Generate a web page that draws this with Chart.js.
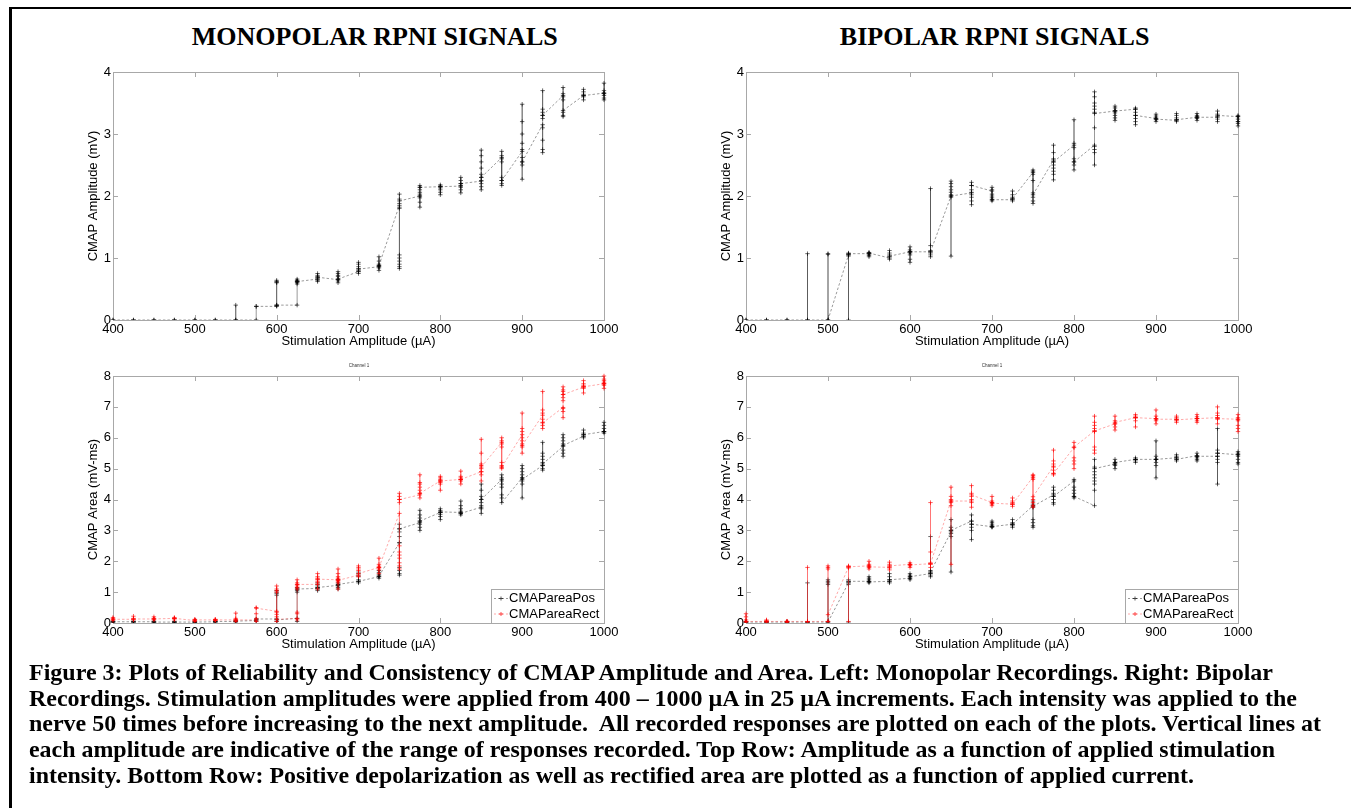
<!DOCTYPE html>
<html>
<head>
<meta charset="utf-8">
<script src="https://cdn.jsdelivr.net/npm/chart.js@4.4.0/dist/chart.umd.min.js"></script>
<style>
  html, body { margin: 0; padding: 0; background: #fff; }
  body { width: 1351px; height: 808px; position: relative; overflow: hidden; }
  .frame { position: absolute; left: 9px; top: 7px; width: 1400px; height: 900px; border-left: 3px solid #000; border-top: 2px solid #000; }
  canvas { position: absolute; }
  .title, .cap { font-family: "Liberation Serif", Tinos, "Times New Roman", Times, "Nimbus Roman", "FreeSerif", "DejaVu Serif", serif; font-weight: bold; color: #000; white-space: nowrap; position: absolute; }
  .title { top: 22px; font-size: 26px; line-height: 30px; transform-origin: center top; }
  .cap { left: 29px; font-size: 24px; line-height: 26px; transform-origin: left top; }
  .chan { position: absolute; top: 363px; font: 4.5px "Liberation Sans", Arial, sans-serif; color: #333; white-space: nowrap; transform: translateX(-50%); }
</style>
</head>
<body>
<div class="frame"></div>
<div class="title" id="t1" data-cx="375">MONOPOLAR RPNI SIGNALS</div>
<div class="title" id="t2" data-cx="995">BIPOLAR RPNI SIGNALS</div>

<canvas id="monoAmpChart"></canvas>
<canvas id="biAmpChart"></canvas>
<canvas id="monoAreaChart"></canvas>
<canvas id="biAreaChart"></canvas>

<div class="chan" style="left:359px">Channel 1</div>
<div class="chan" style="left:992px">Channel 1</div>

<div class="cap" data-right="1273" style="top:659px">Figure 3: Plots of Reliability and Consistency of CMAP Amplitude and Area. Left: Monopolar Recordings. Right: Bipolar</div>
<div class="cap" data-right="1297" style="top:685px">Recordings. Stimulation amplitudes were applied from 400 – 1000 µA in 25 µA increments. Each intensity was applied to the</div>
<div class="cap" data-right="1321" style="top:710px">nerve 50 times before increasing to the next amplitude.&nbsp; All recorded responses are plotted on each of the plots. Vertical lines at</div>
<div class="cap" data-right="1275" style="top:736px">each amplitude are indicative of the range of responses recorded. Top Row: Amplitude as a function of applied stimulation</div>
<div class="cap" data-right="1194" style="top:762px">intensity. Bottom Row: Positive depolarization as well as rectified area are plotted as a function of applied current.</div>

<script>
"use strict";

// stimulation amplitudes (µA), one group of recorded responses per amplitude
const amps = [400, 425, 450, 475, 500, 525, 550, 575, 600, 625, 650, 675, 700,
  725, 750, 775, 800, 825, 850, 875, 900, 925, 950, 975, 1000];

const xTicks = [400, 500, 600, 700, 800, 900, 1000];
const ampTicks = [0, 1, 2, 3, 4];
const areaTicks = [0, 1, 2, 3, 4, 5, 6, 7, 8];

// responses: first value = first trial, last value = last trial
const monoAmp = [
  [0, 0], [0, 0], [0, 0], [0, 0], [0, 0], [0, 0],
  [0, 0.24, 0],
  [0, 0.22, 0.22],
  [0.22, 0.24, 0.23, 0.6, 0.62, 0.64, 0.61, 0.24],
  [0.24, 0.58, 0.6, 0.62, 0.64, 0.66, 0.63, 0.61, 0.62],
  [0.66, 0.62, 0.64, 0.66, 0.68, 0.7, 0.72, 0.75, 0.69],
  [0.65, 0.6, 0.63, 0.66, 0.7, 0.72, 0.75, 0.78, 0.66],
  [0.78, 0.75, 0.78, 0.8, 0.83, 0.86, 0.9, 0.93, 0.82],
  [0.86, 0.8, 0.84, 0.86, 0.88, 0.9, 0.95, 1.02, 0.88],
  [1.85, 1.82, 0.83, 0.86, 0.9, 0.95, 1.0, 1.05, 1.8, 1.88, 1.95, 2.03, 1.92],
  [2.0, 1.82, 1.9, 1.97, 2.0, 2.03, 2.06, 2.1, 2.14, 2.17, 2.14],
  [2.15, 2.02, 2.06, 2.1, 2.13, 2.16, 2.18, 2.15],
  [2.16, 2.05, 2.1, 2.14, 2.17, 2.2, 2.25, 2.3, 2.2],
  [2.24, 2.1, 2.15, 2.2, 2.25, 2.3, 2.35, 2.45, 2.55, 2.65, 2.74, 2.3],
  [2.62, 2.55, 2.6, 2.65, 2.72, 2.3, 2.25, 2.2, 2.17, 2.25],
  [2.72, 2.75, 2.85, 3.0, 3.2, 3.48, 2.62, 2.55, 2.5, 2.27, 2.55],
  [3.15, 3.25, 3.3, 3.35, 3.4, 3.7, 3.1, 2.9, 2.75, 2.7, 3.3],
  [3.62, 3.55, 3.6, 3.65, 3.75, 3.35, 3.3, 3.28, 3.38],
  [3.62, 3.55, 3.6, 3.64, 3.68, 3.72, 3.62],
  [3.66, 3.55, 3.58, 3.62, 3.66, 3.7, 3.82, 3.65]
];

const biAmp = [
  [0, 0], [0, 0], [0, 0],
  [0, 1.07, 0],
  [0, 1.07, 1.06, 0],
  [1.05, 0, 1.03, 1.05, 1.06, 1.08, 1.07],
  [1.07, 1.02, 1.04, 1.06, 1.08, 1.09, 1.08],
  [1.0, 0.98, 1.02, 1.05, 1.08, 1.12, 1.03],
  [1.1, 0.93, 0.98, 1.05, 1.08, 1.1, 1.13, 1.18, 1.1],
  [1.1, 1.02, 1.05, 1.08, 1.12, 1.2, 2.12, 1.1],
  [2.0, 1.03, 1.98, 2.02, 2.06, 2.1, 2.15, 2.2, 2.24, 2.0],
  [2.05, 1.86, 1.92, 1.98, 2.02, 2.06, 2.1, 2.17, 2.22, 2.17],
  [2.08, 1.92, 1.94, 1.97, 2.0, 2.03, 2.1, 2.14, 1.94],
  [1.94, 1.92, 1.95, 1.98, 2.02, 2.08, 1.96],
  [2.38, 2.35, 2.4, 2.42, 2.25, 2.05, 1.98, 1.92, 1.88, 2.02],
  [2.58, 2.26, 2.35, 2.4, 2.45, 2.5, 2.55, 2.6, 2.7, 2.82, 2.55],
  [2.82, 2.78, 2.85, 3.23, 2.6, 2.55, 2.5, 2.42, 2.55],
  [2.82, 2.7, 2.75, 2.8, 2.5, 3.1, 3.35, 3.4, 3.45, 3.5, 3.6, 3.68, 3.33],
  [3.37, 3.22, 3.26, 3.3, 3.34, 3.38, 3.42, 3.45, 3.37],
  [3.4, 3.15, 3.2, 3.25, 3.3, 3.35, 3.4, 3.42, 3.3],
  [3.25, 3.2, 3.23, 3.26, 3.29, 3.32, 3.24],
  [3.22, 3.2, 3.23, 3.26, 3.3, 3.33, 3.23],
  [3.27, 3.22, 3.25, 3.28, 3.3, 3.33, 3.27],
  [3.27, 3.2, 3.24, 3.28, 3.32, 3.37, 3.3],
  [3.28, 3.13, 3.17, 3.2, 3.24, 3.28, 3.3, 3.2]
];

const monoAreaPos = [
  [0.04, 0.02, 0.06, 0.04],
  [0.04, 0.02, 0.06, 0.04],
  [0.04, 0.02, 0.06, 0.03],
  [0.03, 0.02, 0.05, 0.03],
  [0.03, 0.01, 0.05, 0.03],
  [0.04, 0.02, 0.06, 0.05],
  [0.05, 0.03, 0.08, 0.06],
  [0.08, 0.05, 0.12, 0.13],
  [0.13, 0.05, 0.9, 0.95, 1.0, 1.05, 0.1],
  [0.15, 0.05, 1.0, 1.05, 1.1, 1.15, 1.1],
  [1.12, 1.05, 1.1, 1.15, 1.2, 1.25, 1.3, 1.15],
  [1.22, 1.1, 1.15, 1.2, 1.25, 1.3, 1.4, 1.25],
  [1.35, 1.3, 1.4, 1.5, 1.55, 1.6, 1.65, 1.35],
  [1.5, 1.45, 1.52, 1.58, 1.64, 1.7, 1.52],
  [2.6, 1.55, 1.6, 1.7, 1.8, 2.6, 2.8, 2.95, 3.05, 3.2, 3.05],
  [3.25, 3.0, 3.1, 3.2, 3.3, 3.4, 3.5, 3.65, 3.3],
  [3.58, 3.35, 3.45, 3.52, 3.58, 3.64, 3.7, 3.6],
  [3.58, 3.5, 3.55, 3.62, 3.7, 3.8, 3.95, 3.55],
  [3.75, 3.55, 3.7, 3.8, 3.9, 4.0, 4.1, 4.3, 4.5, 4.0],
  [4.65, 4.4, 4.5, 4.6, 4.7, 4.8, 4.15, 4.05, 3.9],
  [4.7, 4.05, 4.5, 4.6, 4.7, 4.8, 4.9, 5.0, 5.1, 4.65],
  [5.1, 4.95, 5.0, 5.1, 5.2, 5.3, 5.4, 5.5, 5.85, 5.15],
  [5.72, 5.8, 5.9, 6.0, 6.1, 5.6, 5.5, 5.4, 5.75],
  [6.05, 6.0, 6.05, 6.1, 6.15, 6.25, 6.1],
  [6.2, 6.15, 6.2, 6.3, 6.4, 6.5, 6.2]
];

const monoAreaRect = [
  [0.12, 0.08, 0.15, 0.18, 0.12],
  [0.12, 0.1, 0.15, 0.22, 0.13],
  [0.13, 0.1, 0.15, 0.2, 0.13],
  [0.15, 0.1, 0.15, 0.18, 0.15],
  [0.08, 0.05, 0.1, 0.12, 0.1],
  [0.1, 0.08, 0.1, 0.12, 0.1],
  [0.1, 0.05, 0.1, 0.15, 0.32, 0.1],
  [0.1, 0.05, 0.15, 0.3, 0.5, 0.48],
  [0.38, 0.2, 0.28, 0.35, 1.0, 1.05, 1.1, 1.2, 0.05, 0.12],
  [0.15, 0.1, 0.3, 0.35, 1.1, 1.15, 1.2, 1.25, 1.3, 1.4, 1.25],
  [1.25, 1.1, 1.3, 1.35, 1.4, 1.45, 1.5, 1.6, 1.42],
  [1.4, 1.1, 1.3, 1.35, 1.4, 1.45, 1.5, 1.6, 1.75, 1.38],
  [1.55, 1.5, 1.7, 1.75, 1.8, 1.85, 1.6],
  [1.8, 1.6, 1.72, 1.78, 1.84, 1.9, 2.1, 1.8],
  [3.55, 3.9, 4.0, 4.1, 4.2, 2.5, 2.3, 2.2, 2.1, 1.95, 1.85, 1.75, 4.0],
  [4.15, 4.05, 4.2, 4.3, 4.4, 4.5, 4.55, 4.8, 4.2],
  [4.6, 4.3, 4.5, 4.55, 4.6, 4.65, 4.7, 4.75, 4.6],
  [4.65, 4.5, 4.6, 4.65, 4.7, 4.75, 4.92, 4.65],
  [4.9, 4.6, 4.8, 4.9, 5.0, 5.1, 5.15, 5.5, 5.95, 5.05],
  [5.85, 5.7, 5.8, 5.9, 6.0, 5.2, 5.1, 5.05, 5.0, 5.05],
  [6.1, 6.2, 6.3, 6.8, 6.0, 5.9, 5.8, 5.7, 5.5, 5.75],
  [6.73, 6.8, 6.9, 7.5, 6.6, 6.5, 6.4, 6.3, 6.48],
  [6.98, 7.2, 7.3, 7.4, 7.5, 7.55, 7.65, 6.95, 6.85, 6.65, 7.4],
  [7.64, 7.45, 7.6, 7.65, 7.7, 7.75, 7.85, 7.65],
  [7.75, 7.6, 7.7, 7.75, 7.8, 7.85, 7.9, 8.0, 7.75]
];

const biAreaPos = [
  [0.03, 0.0, 0.05, 0.03],
  [0.03, 0.0, 0.05, 0.03],
  [0.03, 0.0, 0.04, 0.03],
  [0.03, 0.0, 1.3, 0.03],
  [0.03, 1.25, 1.3, 1.35, 1.4, 0.03],
  [1.3, 0.03, 1.25, 1.3, 1.35, 1.4, 1.35],
  [1.35, 1.3, 1.35, 1.4, 1.45, 1.5, 1.33],
  [1.35, 1.3, 1.35, 1.4, 1.5, 1.6, 1.4],
  [1.45, 1.4, 1.45, 1.5, 1.55, 1.6, 1.5],
  [1.6, 1.5, 1.55, 1.6, 1.65, 1.7, 2.8, 1.65],
  [2.95, 1.65, 2.8, 2.9, 3.0, 3.1, 3.35, 3.0],
  [3.3, 2.7, 3.0, 3.1, 3.2, 3.3, 3.5, 3.2],
  [3.12, 3.1, 3.15, 3.2, 3.25, 3.3, 3.12],
  [3.2, 3.1, 3.15, 3.2, 3.25, 3.35, 3.2],
  [3.8, 3.75, 3.85, 3.95, 3.35, 3.25, 3.15, 3.1, 3.78],
  [4.15, 3.85, 3.9, 4.0, 4.1, 4.2, 4.3, 4.4, 4.1],
  [4.6, 4.65, 4.4, 4.3, 4.2, 4.1, 4.05, 4.1],
  [3.8, 4.3, 4.5, 4.6, 4.7, 4.8, 4.9, 5.05, 5.3, 5.0],
  [5.15, 5.0, 5.1, 5.15, 5.2, 5.3, 5.2],
  [5.3, 5.2, 5.25, 5.3, 5.35, 5.3],
  [5.3, 4.7, 5.1, 5.2, 5.3, 5.4, 5.9, 5.3],
  [5.35, 5.25, 5.3, 5.35, 5.4, 5.45, 5.3],
  [5.42, 5.25, 5.3, 5.35, 5.4, 5.5, 5.4],
  [5.4, 4.5, 5.2, 5.3, 5.4, 5.5, 5.6, 6.3, 5.5],
  [5.45, 5.15, 5.2, 5.3, 5.4, 5.5, 5.55, 5.45]
];

const biAreaRect = [
  [0.05, 0.0, 0.1, 0.2, 0.3, 0.05],
  [0.05, 0.02, 0.08, 0.1, 0.05],
  [0.05, 0.02, 0.06, 0.05],
  [0.05, 0.0, 1.8, 0.05],
  [0.05, 1.75, 1.8, 1.85, 0.05, 0.27],
  [1.81, 0.05, 1.78, 1.82, 1.85, 1.82],
  [1.85, 1.75, 1.8, 1.85, 1.9, 2.0, 1.82],
  [1.8, 1.72, 1.78, 1.84, 1.9, 1.97, 1.85],
  [1.9, 1.8, 1.85, 1.9, 1.95, 1.88],
  [1.92, 1.8, 1.9, 1.95, 2.3, 3.9, 1.92],
  [3.95, 1.9, 3.8, 3.9, 4.0, 4.1, 4.4, 3.95],
  [3.95, 3.75, 3.9, 4.0, 4.1, 4.2, 4.45, 4.15],
  [3.9, 3.8, 3.85, 3.9, 3.95, 4.1, 3.88],
  [3.85, 3.78, 3.85, 3.9, 3.95, 4.05, 3.85],
  [4.73, 4.65, 4.7, 4.78, 4.8, 4.0, 3.9, 3.8, 3.75, 4.09],
  [5.08, 4.8, 4.85, 4.95, 5.05, 5.15, 5.25, 5.6, 4.84],
  [5.68, 5.85, 5.35, 5.25, 5.15, 5.0, 5.7],
  [6.22, 5.5, 5.6, 5.7, 6.2, 6.3, 6.4, 6.5, 6.7, 6.22],
  [6.45, 6.25, 6.35, 6.45, 6.55, 6.7, 6.5],
  [6.65, 6.35, 6.55, 6.65, 6.7, 6.75, 6.65],
  [6.62, 6.45, 6.55, 6.62, 6.7, 6.9, 6.6],
  [6.6, 6.5, 6.55, 6.6, 6.65, 6.7, 6.58],
  [6.62, 6.5, 6.55, 6.62, 6.68, 6.75, 6.62],
  [6.65, 6.45, 6.6, 6.65, 6.72, 6.8, 7.0, 6.62],
  [6.6, 6.2, 6.3, 6.4, 6.55, 6.65, 6.75, 6.6]
];

const FONT = '"Liberation Sans", Arial, sans-serif';
const BOX_GREY = "#a8a8a8";

// all trials in recording order: same x -> vertical range line, next x -> dashed step
function toPoints(samples) {
  const pts = [];
  samples.forEach((vals, i) => {
    vals.forEach(v => pts.push({ x: amps[i], y: v }));
  });
  return pts;
}

function series(label, samples, markColor, lineColor, order) {
  return {
    label: label,
    data: toPoints(samples),
    order: order,
    borderColor: lineColor,
    borderWidth: 0.8,
    pointStyle: "cross",
    pointRadius: 2.2,
    pointHoverRadius: 2.2,
    pointBorderWidth: 0.75,
    pointBorderColor: markColor,
    pointBackgroundColor: markColor,
    tension: 0,
    fill: false,
    clip: { left: 6, right: 6, top: 6, bottom: 0 },
    segment: {
      borderDash: c => (c.p0.parsed.x === c.p1.parsed.x ? [] : [2.5, 2])
    }
  };
}

// matlab-like grey box with inward ticks
const boxPlugin = {
  id: "matlabBox",
  beforeDatasetsDraw(chart) {
    const { ctx, chartArea: a, scales } = chart;
    ctx.save();
    ctx.strokeStyle = BOX_GREY;
    ctx.lineWidth = 1;
    ctx.strokeRect(a.left + 0.5, a.top + 0.5, a.right - a.left, a.bottom - a.top);
    ctx.beginPath();
    scales.x.ticks.forEach(t => {
      const px = Math.round(scales.x.getPixelForValue(t.value)) + 0.5;
      ctx.moveTo(px, a.bottom);
      ctx.lineTo(px, a.bottom - 5);
      ctx.moveTo(px, a.top);
      ctx.lineTo(px, a.top + 5);
    });
    scales.y.ticks.forEach(t => {
      const py = Math.round(scales.y.getPixelForValue(t.value)) + 0.5;
      ctx.moveTo(a.left, py);
      ctx.lineTo(a.left + 5, py);
      ctx.moveTo(a.right, py);
      ctx.lineTo(a.right - 5, py);
    });
    ctx.stroke();
    ctx.restore();
  }
};

const areaLegend = {
  id: "areaLegend",
  afterDatasetsDraw(chart, args, opts) {
    if (!opts.show) return;
    const { ctx, chartArea: a } = chart;
    const w = 113, h = 34;
    const x = a.right - w, y = a.bottom - h;
    ctx.save();
    ctx.fillStyle = "#fff";
    ctx.fillRect(x, y, w, h);
    ctx.strokeStyle = BOX_GREY;
    ctx.lineWidth = 1;
    ctx.strokeRect(x + 0.5, y + 0.5, w, h);
    ctx.font = "13px " + FONT;
    ctx.textBaseline = "middle";
    chart.data.datasets.forEach((ds, i) => {
      const cy = y + 9.5 + i * 15.5;
      ctx.strokeStyle = ds.borderColor;
      ctx.lineWidth = 0.8;
      ctx.setLineDash([2, 2]);
      ctx.beginPath();
      ctx.moveTo(x + 3, cy);
      ctx.lineTo(x + 17, cy);
      ctx.stroke();
      ctx.setLineDash([]);
      ctx.strokeStyle = ds.pointBorderColor;
      ctx.beginPath();
      ctx.moveTo(x + 8, cy);
      ctx.lineTo(x + 12, cy);
      ctx.moveTo(x + 10, cy - 2);
      ctx.lineTo(x + 10, cy + 2);
      ctx.stroke();
      ctx.fillStyle = "#000";
      ctx.fillText(ds.label, x + 18, cy);
    });
    ctx.restore();
  }
};

function makeChart(id, area, yTickVals, yTitle, datasets, legend) {
  const padL = 63, padT = 16, padR = 22, padB = 37;
  const canvas = document.getElementById(id);
  const w = area.r - area.l + padL + padR;
  const h = area.b - area.t + padT + padB;
  canvas.width = w;
  canvas.height = h;
  canvas.style.left = (area.l - padL) + "px";
  canvas.style.top = (area.t - padT) + "px";
  canvas.style.width = w + "px";
  canvas.style.height = h + "px";

  return new Chart(canvas.getContext("2d"), {
    type: "line",
    data: { datasets: datasets },
    options: {
      responsive: false,
      animation: false,
      devicePixelRatio: 1,
      events: [],
      layout: { autoPadding: false, padding: { left: 0, top: padT, right: padR, bottom: 0 } },
      plugins: {
        legend: { display: false },
        tooltip: { enabled: false },
        areaLegend: { show: legend }
      },
      scales: {
        x: {
          type: "linear",
          min: xTicks[0],
          max: xTicks[xTicks.length - 1],
          grid: { display: false, drawTicks: false },
          border: { display: false },
          afterBuildTicks: s => { s.ticks = xTicks.map(v => ({ value: v })); },
          afterFit: s => { s.height = padB; },
          ticks: { color: "#000", padding: 2, autoSkip: false, maxRotation: 0, font: { family: FONT, size: 13 }, callback: v => String(v) },
          title: {
            display: true,
            text: "Stimulation Amplitude (µA)",
            color: "#000",
            font: { family: FONT, size: 13 },
            padding: { top: 0, bottom: padB - 21 - 7.8 }
          }
        },
        y: {
          type: "linear",
          min: yTickVals[0],
          max: yTickVals[yTickVals.length - 1],
          grid: { display: false, drawTicks: false },
          border: { display: false },
          afterBuildTicks: s => { s.ticks = yTickVals.map(v => ({ value: v })); },
          afterFit: s => { s.width = padL; },
          ticks: { color: "#000", padding: 2, autoSkip: false, font: { family: FONT, size: 13 }, callback: v => String(v) },
          title: {
            display: true,
            text: yTitle,
            color: "#000",
            font: { family: FONT, size: 13 },
            padding: { top: padL - 20 - 7.8, bottom: 0 }
          }
        }
      }
    },
    plugins: [boxPlugin, areaLegend]
  });
}

document.addEventListener("DOMContentLoaded", () => {
  // titles: same font scale, centred over each column
  const t1 = document.getElementById("t1");
  const t2 = document.getElementById("t2");
  const s = 366 / t1.getBoundingClientRect().width;
  [t1, t2].forEach(t => {
    const tw = t.getBoundingClientRect().width;
    t.style.left = (Number(t.dataset.cx) - tw / 2) + "px";
    t.style.transform = "scaleX(" + s + ")";
  });

  // caption lines stretched to their line ends
  document.querySelectorAll(".cap").forEach(el => {
    const cw = el.getBoundingClientRect().width;
    el.style.transform = "scaleX(" + ((Number(el.dataset.right) - 29) / cw) + ")";
  });

  const black = "rgba(0,0,0,0.8)";
  const blackLine = "rgba(0,0,0,0.5)";
  const red = "rgba(255,0,0,0.85)";
  const redLine = "rgba(255,40,40,0.5)";

  makeChart("monoAmpChart", { l: 113, r: 604, t: 72, b: 320 }, ampTicks, "CMAP Amplitude (mV)",
    [series("CMAPamp", monoAmp, black, blackLine, 1)], false);
  makeChart("biAmpChart", { l: 746, r: 1238, t: 72, b: 320 }, ampTicks, "CMAP Amplitude (mV)",
    [series("CMAPamp", biAmp, black, blackLine, 1)], false);
  makeChart("monoAreaChart", { l: 113, r: 604, t: 376, b: 623 }, areaTicks, "CMAP Area (mV-ms)",
    [series("CMAPareaPos", monoAreaPos, black, blackLine, 2),
     series("CMAPareaRect", monoAreaRect, red, redLine, 1)], true);
  makeChart("biAreaChart", { l: 746, r: 1238, t: 376, b: 623 }, areaTicks, "CMAP Area (mV-ms)",
    [series("CMAPareaPos", biAreaPos, black, blackLine, 2),
     series("CMAPareaRect", biAreaRect, red, redLine, 1)], true);
});
</script>
</body>
</html>
